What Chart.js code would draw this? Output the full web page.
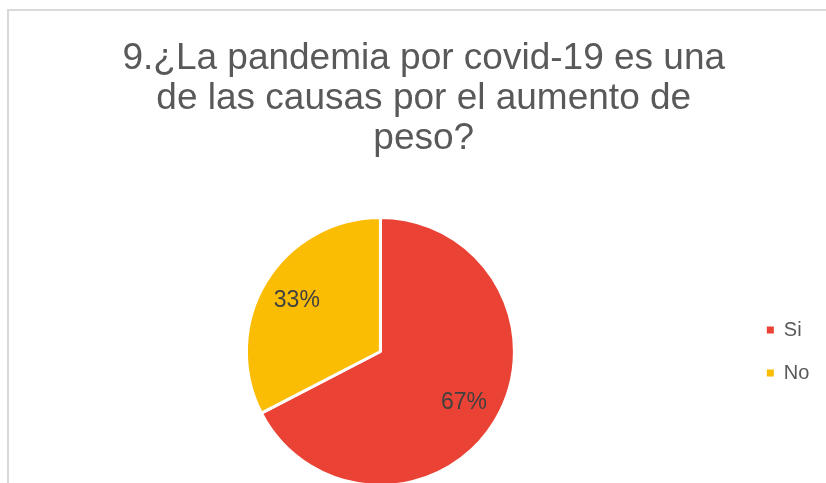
<!DOCTYPE html>
<html>
<head>
<meta charset="utf-8">
<script src="https://cdn.jsdelivr.net/npm/chart.js@4/dist/chart.umd.min.js"></script>
<style>
  html, body { margin: 0; padding: 0; background: #fff; overflow: hidden; }
  #box {
    position: absolute; left: 7px; top: 9px;
    width: 826px; height: 481px;
    border: 2px solid #d9d9d9;
  }
</style>
</head>
<body>
<div id="box"><canvas id="canvas1" width="826" height="481"></canvas></div>
<script>
// chart data
const titleLines = ["9.¿La pandemia por covid-19 es una", "de las causas por el aumento de", "peso?"]
const categories = ["Si", "No"]
const shares = [67.4, 32.6]
const sliceColors = ["#EA4335", "#FBBC04"]

// percentage labels inside each slice
const pctLabels = {
    id: "pctLabels",
    afterDatasetsDraw(chart) {
        const ctx = chart.ctx
        const meta = chart.getDatasetMeta(0)
        const total = shares.reduce((a, b) => a + b, 0)
        ctx.save()
        ctx.font = "23px 'Liberation Sans', Arial, sans-serif"
        ctx.fillStyle = "#404040"
        ctx.textAlign = "center"
        ctx.textBaseline = "middle"
        meta.data.forEach((arc, i) => {
            const mid = (arc.startAngle + arc.endAngle) / 2
            const r = arc.outerRadius * 0.73
            const txt = Math.round(shares[i] / total * 100) + "%"
            ctx.fillText(txt, arc.x + Math.cos(mid) * r, arc.y + Math.sin(mid) * r)
        })
        ctx.restore()
    }
}

const ctx = document.querySelector("#canvas1")
const myPieChart = new Chart(ctx, {
    type: "pie",
    data: {
        labels: categories,
        datasets: [{
            data: shares,
            backgroundColor: sliceColors,
            borderColor: "#ffffff",
            borderWidth: 3
        }]
    },
    options: {
        responsive: false,
        animation: false,
        layout: { padding: { left: 8, right: 4.5, top: 0, bottom: 5 } },
        plugins: {
            tooltip: { enabled: false },
            title: {
                display: true,
                text: titleLines,
                color: "#595959",
                font: { family: "'Liberation Sans', Arial, sans-serif", size: 37, weight: "normal", lineHeight: 40 / 37 },
                padding: { top: 28, bottom: 57 }
            },
            legend: {
                position: "right",
                fullSize: false,
                labels: {
                    color: "#595959",
                    font: { family: "'Liberation Sans', Arial, sans-serif", size: 20 },
                    boxWidth: 7,
                    boxHeight: 7,
                    padding: 23,
                    // trailing spaces widen the legend box so the title sits where it does in the original
                    generateLabels(chart) {
                        return Chart.overrides.pie.plugins.legend.labels.generateLabels(chart).map(item => {
                            item.text = item.text + "  "
                            item.lineWidth = 0
                            return item
                        })
                    }
                }
            }
        }
    },
    plugins: [pctLabels]
});
</script>
</body>
</html>
